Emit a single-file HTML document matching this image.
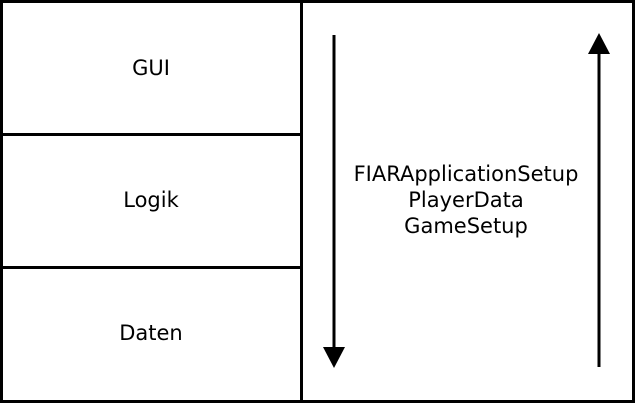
<!DOCTYPE html>
<html><head><meta charset="utf-8"><style>
body{margin:0;background:#fff}
</style></head><body>
<svg width="635" height="403" viewBox="0 0 635 403" xmlns="http://www.w3.org/2000/svg" font-family="DejaVu Sans, sans-serif" font-size="21">
<rect x="1.5" y="1.5" width="632" height="400" fill="#fff" stroke="#000" stroke-width="3"/>
<line x1="301.5" y1="0" x2="301.5" y2="403" stroke="#000" stroke-width="3"/>
<line x1="0" y1="134.5" x2="301" y2="134.5" stroke="#000" stroke-width="3"/>
<line x1="0" y1="267.5" x2="301" y2="267.5" stroke="#000" stroke-width="3"/>
<text x="151" y="75" text-anchor="middle">GUI</text>
<text x="151" y="207" text-anchor="middle">Logik</text>
<text x="151" y="340" text-anchor="middle">Daten</text>
<line x1="334" y1="35" x2="334" y2="350" stroke="#000" stroke-width="3"/>
<polygon points="323,347 345,347 334,368" fill="#000"/>
<line x1="599" y1="367" x2="599" y2="52" stroke="#000" stroke-width="3"/>
<polygon points="588,54 610,54 599,33" fill="#000"/>
<text x="466" y="181" text-anchor="middle">FIARApplicationSetup</text>
<text x="466" y="207" text-anchor="middle">PlayerData</text>
<text x="466" y="233" text-anchor="middle">GameSetup</text>
</svg>
</body></html>
